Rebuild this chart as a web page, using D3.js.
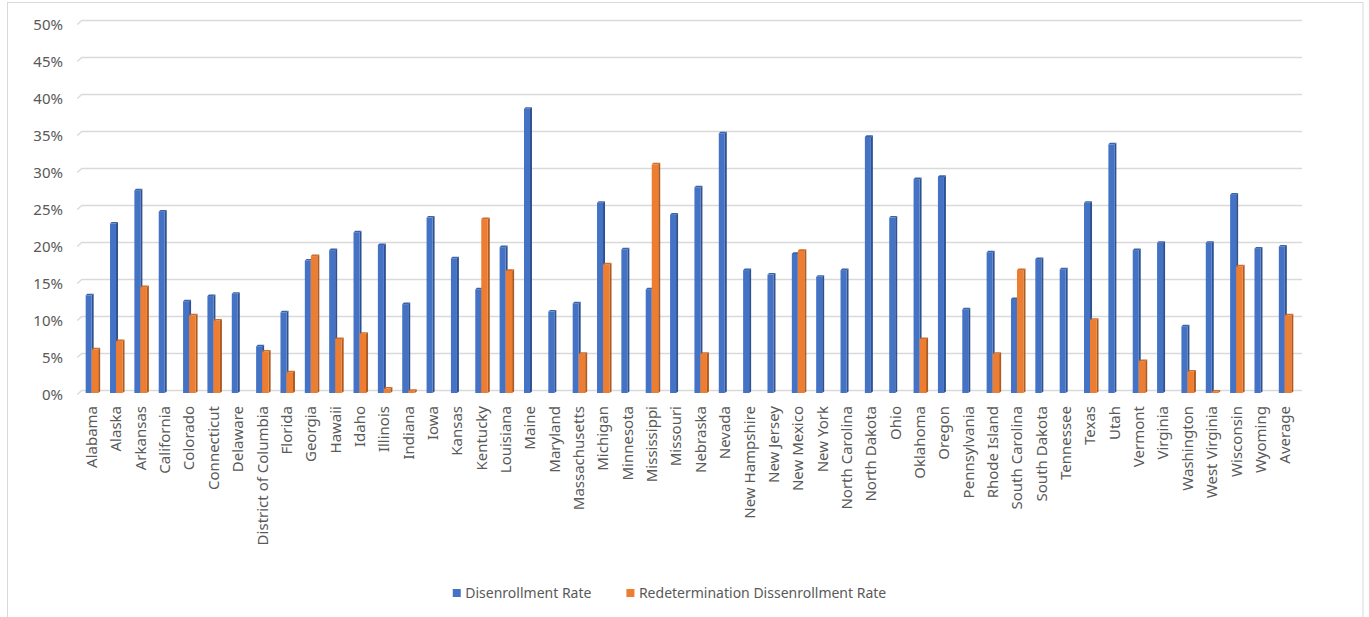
<!DOCTYPE html>
<html>
<head>
<meta charset="utf-8">
<script src="https://cdn.jsdelivr.net/npm/d3@7/dist/d3.min.js"></script>
<style>
  html, body { margin: 0; padding: 0; background: #fff; }
  svg { display: block; }
  text { font-family: "Noto Sans", "Open Sans", sans-serif; fill: #595959; }
</style>
</head>
<body>
<svg id="chart" width="1369" height="617"></svg>
<script>
const categories = ["Alabama","Alaska","Arkansas","California","Colorado","Connecticut","Delaware","District of Columbia","Florida","Georgia","Hawaii","Idaho","Illinois","Indiana","Iowa","Kansas","Kentucky","Louisiana","Maine","Maryland","Massachusetts","Michigan","Minnesota","Mississippi","Missouri","Nebraska","Nevada","New Hampshire","New Jersey","New Mexico","New York","North Carolina","North Dakota","Ohio","Oklahoma","Oregon","Pennsylvania","Rhode Island","South Carolina","South Dakota","Tennessee","Texas","Utah","Vermont","Virginia","Washington","West Virginia","Wisconsin","Wyoming","Average"];

const disenrollmentRate = [13.2,22.9,27.4,24.5,12.4,13.1,13.4,6.3,10.9,17.9,19.3,21.7,20.0,12.0,23.7,18.2,14.0,19.7,38.4,11.0,12.1,25.7,19.4,14.0,24.1,27.8,35.1,16.6,16.0,18.8,15.7,16.6,34.6,23.7,28.9,29.2,11.3,19.0,12.7,18.1,16.7,25.7,33.6,19.3,20.3,9.0,20.3,26.8,19.5,19.8];

const redeterminationRate = [5.9,7.0,14.3,0,10.5,9.8,0,5.6,2.8,18.5,7.3,8.0,0.6,0.3,0,0,23.5,16.5,0,0,5.3,17.4,0,30.9,0,5.3,0,0,0,19.2,0,0,0,0,7.3,0,0,5.3,16.6,0,0,9.9,0,4.3,0,2.9,0.2,17.1,0,10.5];

const yTicks = [0,5,10,15,20,25,30,35,40,45,50];
const seriesNames = ["Disenrollment Rate","Redetermination Dissenrollment Rate"];
const seriesColors = ["#4472C4","#ED7D31"];
const sideColors = ["#2F528F","#AE5A21"];
const topColors = ["#3A63AD","#D06C2A"];

const svg = d3.select("#chart");

// chart border
svg.append("rect").attr("x",7.5).attr("y",2.5).attr("width",1355.5).attr("height",620)
  .attr("fill","none").attr("stroke","#d9d9d9").attr("stroke-width",1);

// scales
const x = d3.scaleBand().domain(categories).range([79.5, 1297]).paddingInner(0).paddingOuter(0);
const yGrid = d3.scaleLinear().domain([0,50]).range([390, 20]);  // back wall
const yBar = d3.scaleLinear().domain([0,50]).range([393, 23]);   // bar front faces
const depth = 4;

// gridlines with perspective start
const grid = svg.append("g");
yTicks.forEach(t => {
  const yb = Math.round(yGrid(t)) + 0.5;
  grid.append("path")
    .attr("d", `M77.3,${yb+depth} L81.7,${yb} L1302,${yb}`)
    .attr("fill","none").attr("stroke","#d9d9d9").attr("stroke-width",1.3);
});

// y axis labels
const yAxis = d3.axisLeft(yGrid).tickValues(yTicks).tickFormat(d => d + "%").tickSize(0).tickPadding(0);
const yg = svg.append("g").attr("transform","translate(63,5)").call(yAxis);
yg.select(".domain").remove();
yg.selectAll("text").style("font-size","15px").attr("fill","#595959")
  .style("font-family",'"Noto Sans", sans-serif');

// bars
const d = 1.6;
const fw = [6, 6.5];
function drawBar(g, cx, v, s) {
  if (v <= 0) return;
  const x0 = s === 0 ? cx - fw[0] : cx;
  const x1 = x0 + fw[s];
  const top = yBar(v), bot = yBar(0);
  g.append("path")
    .attr("d", `M${x1},${top} L${x1+d+0.4},${top-d} L${x1+d+0.4},${bot-d} L${x1},${bot} Z`)
    .attr("fill", sideColors[s]);
  g.append("rect").attr("x",x0).attr("y",top).attr("width",fw[s]).attr("height",Math.max(0.8, bot-top))
    .attr("fill", seriesColors[s]);
  g.append("path")
    .attr("d", `M${x0},${top} L${x0+d},${top-d} L${x1+d+0.4},${top-d} L${x1},${top} Z`)
    .attr("fill", topColors[s]);
}
const bars = svg.append("g");
categories.forEach((c, i) => {
  const cx = x(c) + x.bandwidth()/2;
  const g = bars.append("g");
  drawBar(g, cx, disenrollmentRate[i], 0);
  drawBar(g, cx, redeterminationRate[i], 1);
});

// x axis labels
const xAxis = d3.axisBottom(x).tickSize(0).tickPadding(0);
const xg = svg.append("g").attr("transform","translate(0,406)").call(xAxis);
xg.select(".domain").remove();
xg.selectAll("text")
  .attr("transform","rotate(-90)")
  .attr("text-anchor","end")
  .attr("x",0).attr("y",0).attr("dy","0.36em")
  .style("font-size","15px").attr("fill","#595959")
  .style("font-family",'"Noto Sans", sans-serif');

// legend
const legend = svg.append("g");
const items = seriesNames.map((name, i) => {
  const g = legend.append("g");
  g.append("rect").attr("width",8).attr("height",8).attr("y",-4).attr("fill",seriesColors[i]);
  const t = g.append("text").attr("x",12.5).attr("dy","0.35em").style("font-size","14px").text(name);
  return {g, w: 12.5 + t.node().getComputedTextLength()};
});
const gap = 35;
const total = items.reduce((a,b) => a + b.w, 0) + gap;
let lx = 669.5 - total/2;
items.forEach(it => { it.g.attr("transform", `translate(${lx},593)`); lx += it.w + gap; });
</script>
</body>
</html>
